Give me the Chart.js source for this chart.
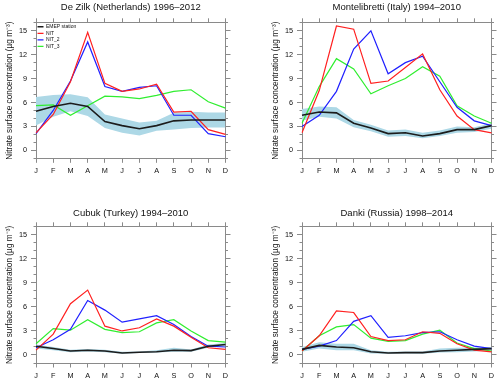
<!DOCTYPE html>
<html>
<head>
<meta charset="utf-8">
<script src="https://cdn.jsdelivr.net/npm/chart.js@4"></script>
<style>
  body { margin: 0; background: #fff; }
  #wrap { position: relative; width: 500px; height: 383px; overflow: hidden; background: #fff; }
  canvas { position: absolute; }
</style>
</head>
<body>
<div id="wrap">
  <canvas id="c1" width="234" height="190" style="left:0;top:0"></canvas>
  <canvas id="c2" width="234" height="190" style="left:266px;top:0"></canvas>
  <canvas id="c3" width="234" height="193" style="left:0;top:190px"></canvas>
  <canvas id="c4" width="234" height="193" style="left:266px;top:190px"></canvas>
</div>
<script>
const months = ["J", "F", "M", "A", "M", "J", "J", "A", "S", "O", "N", "D"];
const yMin = -1;
const yMax = 16;
const yStep = 3;
const yTitle = "Nitrate surface concentration (µg m⁻³)";
const seriesNames = ["EMEP station", "NIT", "NIT_2", "NIT_3"];

// De Zilk
const dezilkTitle = "De Zilk (Netherlands) 1996–2012";
const dezilkEmep = [4.9, 5.5, 5.9, 5.5, 3.6, 3.1, 2.7, 3.1, 3.7, 3.8, 3.8, 3.8];
const dezilkNit = [2.2, 4.5, 8.6, 14.8, 8.4, 7.4, 7.7, 8.3, 4.8, 4.9, 2.6, 2.0];
const dezilkNit2 = [2.1, 5.0, 8.7, 13.6, 8.0, 7.4, 7.9, 8.1, 4.4, 4.4, 2.1, 1.7];
const dezilkNit3 = [5.6, 5.7, 4.4, 5.6, 6.8, 6.7, 6.5, 6.9, 7.4, 7.6, 6.1, 5.3];
const dezilkLow = [3.1, 4.2, 4.9, 4.3, 2.8, 2.2, 1.85, 2.45, 2.6, 2.8, 2.85, 2.85];
const dezilkHigh = [6.7, 6.95, 7.05, 6.65, 4.5, 4.0, 3.5, 3.7, 4.7, 4.85, 4.75, 4.75];

// Montelibretti
const monteTitle = "Montelibretti (Italy) 1994–2010";
const monteEmep = [4.4, 4.8, 4.7, 3.4, 2.8, 2.1, 2.2, 1.8, 2.1, 2.6, 2.6, 3.1];
const monteNit = [2.2, 7.5, 15.6, 15.2, 8.4, 8.7, 10.4, 12.1, 7.6, 4.3, 2.6, 2.2];
const monteNit2 = [3.0, 4.4, 7.4, 12.7, 15.0, 9.6, 11.0, 11.8, 8.6, 5.4, 3.7, 3.1];
const monteNit3 = [3.4, 8.0, 11.5, 10.2, 7.1, 8.1, 9.0, 10.5, 9.3, 5.6, 4.3, 3.4];
const monteLow = [3.7, 4.2, 4.0, 2.9, 2.4, 1.7, 1.8, 1.5, 1.8, 2.2, 2.3, 2.7];
const monteHigh = [5.2, 5.5, 5.4, 3.8, 3.2, 2.5, 2.6, 2.2, 2.5, 3.0, 2.9, 3.4];

// Cubuk
const cubukTitle = "Cubuk (Turkey) 1994–2010";
const cubukEmep = [1.1, 0.8, 0.5, 0.6, 0.5, 0.25, 0.35, 0.4, 0.6, 0.55, 1.1, 1.3];
const cubukNit = [0.6, 2.6, 6.4, 8.1, 3.6, 3.0, 3.4, 4.5, 3.6, 2.2, 0.9, 0.7];
const cubukNit2 = [0.9, 1.9, 3.2, 6.8, 5.6, 4.1, 4.5, 4.9, 3.8, 2.3, 1.1, 1.0];
const cubukNit3 = [1.4, 3.3, 3.1, 4.4, 3.2, 2.8, 2.9, 4.0, 4.4, 3.0, 1.8, 1.6];
const cubukLow = [0.8, 0.6, 0.35, 0.45, 0.35, 0.15, 0.25, 0.3, 0.4, 0.4, 0.9, 1.1];
const cubukHigh = [1.3, 1.0, 0.65, 0.75, 0.65, 0.4, 0.45, 0.6, 0.9, 0.7, 1.3, 1.5];

// Danki
const dankiTitle = "Danki (Russia) 1998–2014";
const dankiEmep = [0.7, 1.2, 1.0, 0.9, 0.4, 0.25, 0.3, 0.3, 0.5, 0.6, 0.7, 0.8];
const dankiNit = [0.5, 2.4, 5.5, 5.3, 2.3, 1.8, 1.9, 2.9, 2.7, 1.4, 0.6, 0.4];
const dankiNit2 = [0.7, 1.1, 1.8, 4.2, 4.9, 2.2, 2.4, 2.8, 2.9, 1.9, 1.1, 0.8];
const dankiNit3 = [0.5, 2.4, 3.5, 3.8, 2.1, 1.7, 1.8, 2.6, 3.1, 1.5, 0.8, 0.5];
const dankiLow = [0.4, 0.8, 0.6, 0.6, 0.2, 0.15, 0.2, 0.15, 0.3, 0.35, 0.45, 0.55];
const dankiHigh = [1.0, 1.6, 1.4, 1.4, 0.6, 0.4, 0.45, 0.45, 0.8, 0.9, 0.95, 1.0];

Chart.defaults.font.family = "'Liberation Sans', Arial, sans-serif";
Chart.defaults.color = "#111";

const axisGrey = "#8a8a8a";
const lineColors = ["#1c1c1c", "#ff2020", "#2020ff", "#30ee30"];

// vertical legend in 'chartArea' gets top = 0, move it into the plot
const legendInside = {
  id: "legendInside",
  afterLayout(chart) {
    if (chart.legend) {
      chart.legend.top = chart.chartArea.top;
      chart.legend.bottom = chart.chartArea.bottom;
    }
  },
};

const line = (label, data, color, width) => ({
  label,
  data,
  borderColor: color,
  backgroundColor: color,
  borderWidth: width,
  pointRadius: 0,
  tension: 0,
  fill: false,
});

const yScale = (pos, weight, step, tickLen, width, showBorder, extra) => ({
  type: "linear",
  position: pos,
  weight,
  min: yMin,
  max: yMax,
  ticks: { display: false, stepSize: step, includeBounds: false },
  grid: { drawOnChartArea: false, color: axisGrey, tickLength: tickLen },
  border: { display: showBorder, color: axisGrey },
  afterFit: (s) => {
    s.width = width;
  },
  ...extra,
});

const makeChart = (id, title, emep, nit, nit2, nit3, low, high, layout) => {
  const ctx = document.getElementById(id).getContext("2d");
  new Chart(ctx, {
    type: "line",
    data: {
      labels: months,
      datasets: [
        line(seriesNames[0], emep, lineColors[0], 1.6),
        line(seriesNames[1], nit, lineColors[1], 1.2),
        line(seriesNames[2], nit2, lineColors[2], 1.2),
        line(seriesNames[3], nit3, lineColors[3], 1.2),
        {
          label: "band_high",
          data: high,
          borderColor: "rgba(0,0,0,0)",
          backgroundColor: "#add8e6",
          borderWidth: 0,
          pointRadius: 0,
          tension: 0,
          fill: "+1",
        },
        {
          label: "band_low",
          data: low,
          borderColor: "rgba(0,0,0,0)",
          borderWidth: 0,
          pointRadius: 0,
          tension: 0,
          fill: false,
        },
      ],
    },
    plugins: [legendInside],
    options: {
      responsive: false,
      animation: false,
      layout: { padding: { left: 0, right: 3.5, top: 0, bottom: 0 } },
      plugins: {
        title: {
          display: true,
          fullSize: false,
          text: title,
          color: "#111",
          font: { size: 9.5, weight: "normal" },
          padding: { top: layout.titleTop, bottom: layout.titleBottom },
        },
        legend: {
          display: layout.legend,
          position: "chartArea",
          align: "start",
          labels: {
            filter: (item) => item.datasetIndex < 4,
            usePointStyle: true,
            pointStyle: "line",
            pointStyleWidth: 6,
            boxHeight: 5,
            padding: 1.5,
            color: "#111",
            font: { size: 5 },
          },
        },
        tooltip: { enabled: false },
      },
      scales: {
        x: {
          type: "category",
          position: "bottom",
          offset: false,
          grid: { drawOnChartArea: false, color: axisGrey, tickLength: 4.5 },
          border: { color: axisGrey },
          ticks: { font: { size: 7.3 }, color: "#111", padding: 4, maxRotation: 0, autoSkip: false },
          afterFit: (s) => {
            s.height = layout.bottomH;
          },
        },
        xTop: {
          type: "category",
          position: "top",
          offset: false,
          grid: { drawOnChartArea: false, color: axisGrey, tickLength: 4.5 },
          border: { color: axisGrey },
          ticks: { display: false, autoSkip: false },
          afterFit: (s) => {
            s.height = 4.5;
          },
        },
        y: yScale("left", 1, yStep, 5, 36, true, {
          ticks: { display: true, stepSize: yStep, includeBounds: false, font: { size: 7.3 }, color: "#111", padding: 4 },
          title: {
            display: true,
            text: yTitle,
            color: "#111",
            font: { size: 8.3 },
            padding: { top: 5, bottom: 0 },
          },
        }),
        yMinor: yScale("left", 0, 1, 2.5, 0, false, {}),
        yRight: yScale("right", 1, yStep, 5, 5, true, {}),
        yRightMinor: yScale("right", 0, 1, 2.5, 0, false, {}),
      },
    },
  });
};

const topRow = { titleTop: 1.6, titleBottom: 5.3, bottomH: 31.7, legend: false };
const bottomRow = { titleTop: 17.6, titleBottom: 3.3, bottomH: 20, legend: false };

makeChart("c1", dezilkTitle, dezilkEmep, dezilkNit, dezilkNit2, dezilkNit3, dezilkLow, dezilkHigh, { ...topRow, legend: true });
makeChart("c2", monteTitle, monteEmep, monteNit, monteNit2, monteNit3, monteLow, monteHigh, topRow);
makeChart("c3", cubukTitle, cubukEmep, cubukNit, cubukNit2, cubukNit3, cubukLow, cubukHigh, bottomRow);
makeChart("c4", dankiTitle, dankiEmep, dankiNit, dankiNit2, dankiNit3, dankiLow, dankiHigh, bottomRow);
</script>
</body>
</html>
